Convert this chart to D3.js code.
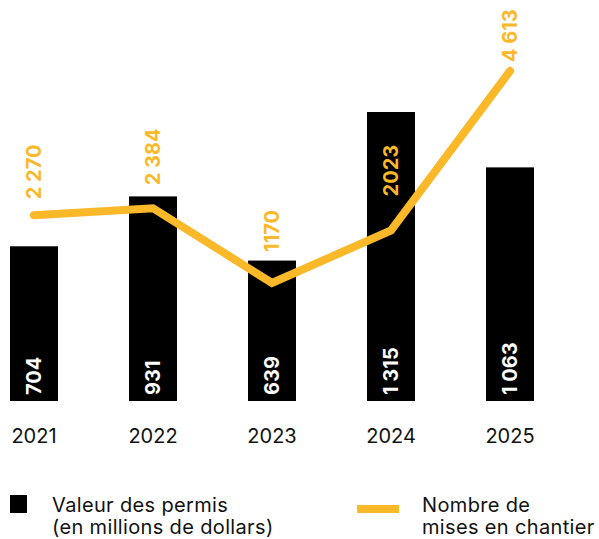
<!DOCTYPE html>
<html>
<head>
<meta charset="utf-8">
<script src="https://cdn.jsdelivr.net/npm/d3@7"></script>
<style>
  body { margin: 0; background: #fff; }
  svg { display: block; }
</style>
</head>
<body>
<div id="chart"></div>
<script>
var years = ["2021", "2022", "2023", "2024", "2025"];
var permitValues = [704, 931, 639, 1315, 1063];
var permitLabels = ["704", "931", "639", "1 315", "1 063"];
var startValues = [2270, 2384, 1170, 2023, 4613];
var startLabels = ["2 270", "2 384", "1170", "2023", "4 613"];

// hand placed gaps between the line and its value labels
var startLabelGap = [16, 23, 31, 34, 9];

var width = 599,
  height = 539;
var yellow = "#fbb829";
var font = "Inter, 'Noto Sans', sans-serif";

var svg = d3
  .select("#chart")
  .append("svg")
  .attr("width", width)
  .attr("height", height);

var x = d3
  .scaleBand()
  .domain(years)
  .range([10, 534])
  .paddingInner(71 / 119)
  .paddingOuter(0);

var yBar = d3
  .scaleLinear()
  .domain([0, 1315])
  .range([401, 112]);

var yLine = d3
  .scaleLinear()
  .domain([0, 4613])
  .range([355, 71]);

function center(d) {
  return x(d) + x.bandwidth() / 2;
}

// bars
svg
  .append("g")
  .selectAll("rect")
  .data(years)
  .enter()
  .append("rect")
  .attr("x", function(d) {
    return x(d);
  })
  .attr("y", function(d, i) {
    return yBar(permitValues[i]);
  })
  .attr("width", x.bandwidth())
  .attr("height", function(d, i) {
    return yBar(0) - yBar(permitValues[i]);
  })
  .attr("fill", "#000");

// bar value labels
svg
  .append("g")
  .selectAll("text")
  .data(years)
  .enter()
  .append("text")
  .attr("transform", function(d) {
    return "translate(" + center(d) + "," + (yBar(0) - 6) + ") rotate(-90)";
  })
  .attr("dy", "0.36em")
  .attr("font-family", font)
  .attr("font-weight", 700)
  .attr("font-size", 20)
  .attr("fill", "#fff")
  .text(function(d, i) {
    return permitLabels[i];
  });

// x axis
var xAxis = svg
  .append("g")
  .attr("transform", "translate(0," + yBar(0) + ")")
  .call(d3.axisBottom(x).tickSize(0).tickPadding(28));
xAxis.select(".domain").remove();
xAxis
  .selectAll("text")
  .attr("font-family", font)
  .attr("font-size", 20)
  .attr("fill", "#111");

// line
var line = d3
  .line()
  .x(function(d) {
    return center(d);
  })
  .y(function(d, i) {
    return yLine(startValues[i]);
  });

svg
  .append("path")
  .datum(years)
  .attr("d", line)
  .attr("fill", "none")
  .attr("stroke", yellow)
  .attr("stroke-width", 8)
  .attr("stroke-linecap", "round")
  .attr("stroke-linejoin", "miter");

// line value labels
svg
  .append("g")
  .selectAll("text")
  .data(years)
  .enter()
  .append("text")
  .attr("transform", function(d, i) {
    var ty = yLine(startValues[i]) - startLabelGap[i];
    return "translate(" + center(d) + "," + ty + ") rotate(-90)";
  })
  .attr("dy", "0.36em")
  .attr("font-family", font)
  .attr("font-weight", 700)
  .attr("font-size", 20)
  .attr("fill", yellow)
  .text(function(d, i) {
    return startLabels[i];
  });

// legend
var legend = svg
  .append("g")
  .attr("font-family", font)
  .attr("font-size", 20)
  .attr("letter-spacing", 0.35)
  .attr("fill", "#111");

legend
  .append("rect")
  .attr("x", 10)
  .attr("y", 495)
  .attr("width", 17)
  .attr("height", 18)
  .attr("fill", "#000");

legend
  .append("text")
  .attr("x", 52)
  .attr("y", 512)
  .text("Valeur des permis");
legend
  .append("text")
  .attr("x", 52)
  .attr("y", 534)
  .text("(en millions de dollars)");

legend
  .append("rect")
  .attr("x", 357)
  .attr("y", 505)
  .attr("width", 42)
  .attr("height", 8)
  .attr("fill", yellow);

legend
  .append("text")
  .attr("x", 422)
  .attr("y", 512)
  .text("Nombre de");
legend
  .append("text")
  .attr("x", 422)
  .attr("y", 534)
  .text("mises en chantier");
</script>
</body>
</html>
